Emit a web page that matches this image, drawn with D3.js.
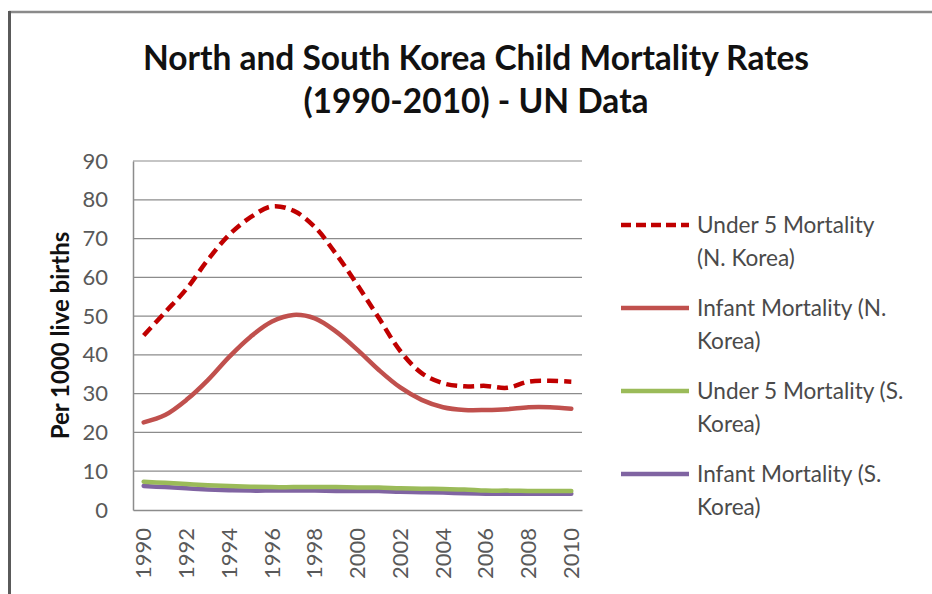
<!DOCTYPE html>
<html>
<head>
<meta charset="utf-8">
<script src="https://cdn.jsdelivr.net/npm/d3@7"></script>
<style>
  html, body { margin: 0; padding: 0; background: #fff; }
  svg { display: block; }
</style>
</head>
<body>
<svg id="chart" width="932" height="594"></svg>
<script>
// Child mortality per 1000 live births, 1990-2010
const years = ["1990","1991","1992","1993","1994","1995","1996","1997","1998","1999","2000",
               "2001","2002","2003","2004","2005","2006","2007","2008","2009","2010"];
const under5NK  = [45, 51, 57, 64.5, 71, 75.5, 78.3, 77.2, 73, 66, 58, 49.5, 41, 35.3, 32.7, 31.9, 32, 31.5, 33.1, 33.3, 33.1];
const infantNK  = [22.6, 24.5, 28.4, 33.5, 39.5, 44.7, 48.6, 50.3, 49.4, 46, 41.3, 36.1, 31.6, 28.4, 26.5, 25.8, 25.8, 26, 26.5, 26.5, 26.1];
const under5SK  = [7.3, 7.0, 6.7, 6.4, 6.2, 6.0, 5.9, 5.9, 5.9, 5.9, 5.8, 5.8, 5.6, 5.5, 5.4, 5.3, 5.0, 5.0, 4.9, 4.9, 4.9];
const infantSK  = [6.2, 5.9, 5.6, 5.3, 5.1, 5.0, 5.0, 5.0, 5.0, 4.9, 4.9, 4.9, 4.7, 4.6, 4.5, 4.3, 4.2, 4.2, 4.2, 4.2, 4.2];
const yTicks = [0, 10, 20, 30, 40, 50, 60, 70, 80, 90];
const xTickLabels = years.filter((d, i) => i % 2 === 0);

const seriesNames = [
  ["Under 5 Mortality", "(N. Korea)"],
  ["Infant Mortality (N.", "Korea)"],
  ["Under 5 Mortality (S.", "Korea)"],
  ["Infant Mortality (S.", "Korea)"]
];
const series = [
  { lines: seriesNames[0], values: under5NK, color: "#C00000", width: 4.5, dash: "11,6" },
  { lines: seriesNames[1], values: infantNK, color: "#C0504D", width: 4.5, dash: null },
  { lines: seriesNames[2], values: under5SK, color: "#9BBB59", width: 4.5, dash: null },
  { lines: seriesNames[3], values: infantSK, color: "#8064A2", width: 4.5, dash: null }
];

const svg = d3.select("#chart");
const font = "Lato, 'Open Sans', sans-serif";

// frame edges
svg.append("line").attr("x1", 9).attr("x2", 932).attr("y1", 12).attr("y2", 12)
  .attr("stroke", "#8a8a8a").attr("stroke-width", 2.5);
svg.append("line").attr("x1", 9.5).attr("x2", 9.5).attr("y1", 11).attr("y2", 594)
  .attr("stroke", "#5a5a5a").attr("stroke-width", 3);

// title
const title = svg.append("text").attr("text-anchor", "middle")
  .attr("font-family", font).attr("font-weight", 700).attr("font-size", 33.5).attr("fill", "#111");
title.append("tspan").attr("x", 476).attr("y", 70).text("North and South Korea Child Mortality Rates");
title.append("tspan").attr("x", 476).attr("y", 113).text("(1990-2010) - UN Data");

// plot area
const plot = { left: 133, right: 582, top: 161, bottom: 510 };
const x = d3.scaleBand().domain(years).range([plot.left, plot.right]);
const y = d3.scaleLinear().domain([0, 90]).range([plot.bottom, plot.top]);

// gridlines
svg.append("g").selectAll("line").data(yTicks.filter(d => d > 0)).join("line")
  .attr("x1", plot.left).attr("x2", plot.right)
  .attr("y1", d => y(d)).attr("y2", d => y(d))
  .attr("stroke", "#8c8c8c").attr("stroke-width", 1.2);

// y axis
const yAxis = svg.append("g").attr("transform", `translate(${plot.left},0)`)
  .call(d3.axisLeft(y).tickValues(yTicks).tickSize(0).tickPadding(25));
yAxis.select(".domain").attr("stroke", "#8c8c8c").attr("stroke-width", 1.5);
yAxis.selectAll("text").attr("font-family", font).attr("font-size", 22).attr("fill", "#595959");

// x axis
const xAxis = svg.append("g").attr("transform", `translate(0,${plot.bottom})`)
  .call(d3.axisBottom(x).tickValues(xTickLabels).tickSize(0).tickSizeOuter(0));
xAxis.select(".domain").attr("stroke", "#8c8c8c").attr("stroke-width", 1.5);
xAxis.selectAll("text")
  .attr("font-family", font).attr("font-size", 22).attr("fill", "#595959")
  .attr("text-anchor", "end").attr("dy", "0.35em")
  .attr("transform", "translate(0,18) rotate(-90)")
  .attr("x", 0).attr("y", 0);

// y axis title
svg.append("text")
  .attr("transform", `translate(69,${(plot.top + plot.bottom) / 2}) rotate(-90)`)
  .attr("text-anchor", "middle")
  .attr("font-family", font).attr("font-weight", 700).attr("font-size", 24).attr("fill", "#111")
  .text("Per 1000 live births");

// series lines
const line = d3.line()
  .x((d, i) => x(years[i]) + x.bandwidth() / 2)
  .y(d => y(d))
  .curve(d3.curveCatmullRom.alpha(0.5));

const drawOrder = [3, 2, 1, 0];
drawOrder.forEach(k => {
  const s = series[k];
  svg.append("path").datum(s.values)
    .attr("d", line)
    .attr("fill", "none")
    .attr("stroke", s.color)
    .attr("stroke-width", s.width)
    .attr("stroke-linejoin", "round")
    .attr("stroke-linecap", s.dash ? "butt" : "round")
    .attr("stroke-dasharray", s.dash);
});

// legend
const legend = svg.append("g");
const legendY = d3.scalePoint().domain(d3.range(series.length)).range([225, 474]);
series.forEach((s, i) => {
  const ly = legendY(i);
  legend.append("line")
    .attr("x1", 621).attr("x2", 689).attr("y1", ly).attr("y2", ly)
    .attr("stroke", s.color).attr("stroke-width", s.width)
    .attr("stroke-dasharray", s.dash ? "10,5" : null);
  const t = legend.append("text")
    .attr("font-family", font).attr("font-size", 22.6).attr("fill", "#4a4a4a");
  s.lines.forEach((ln, j) => {
    t.append("tspan").attr("x", 697).attr("y", ly + 8 + j * 33).text(ln);
  });
});
</script>
</body>
</html>
